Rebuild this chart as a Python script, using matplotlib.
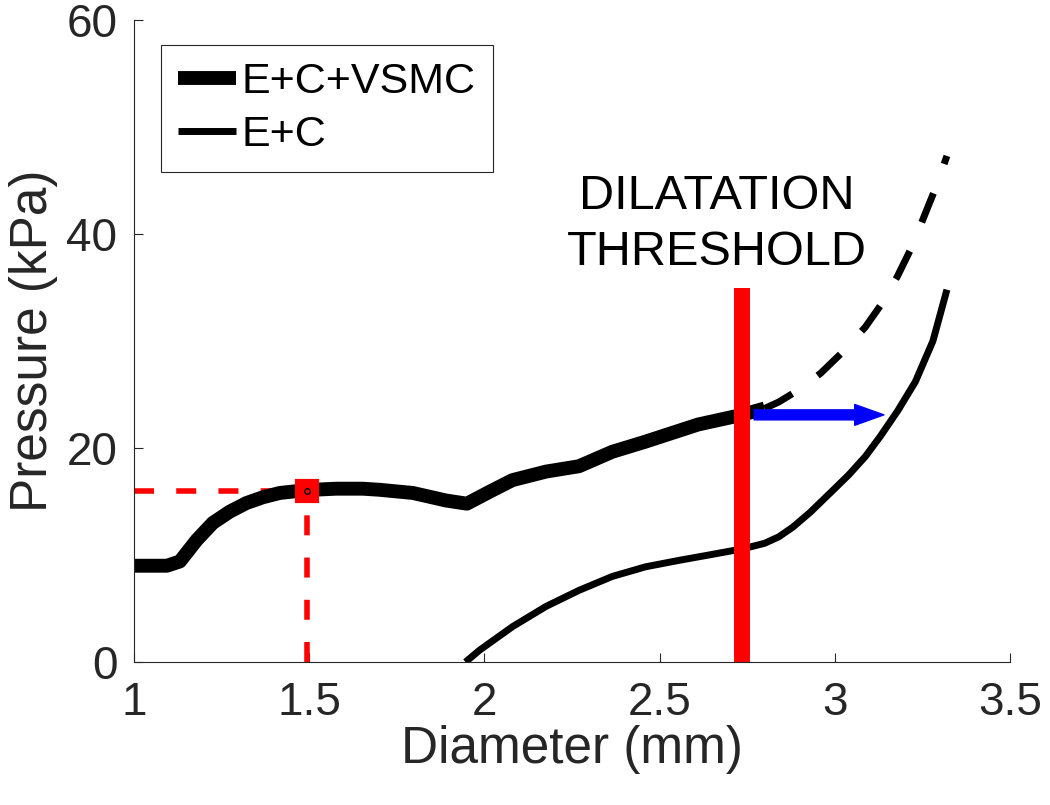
import matplotlib
matplotlib.use("Agg")
import matplotlib.pyplot as plt
import numpy as np

plt.rcParams['font.family'] = ['Liberation Sans', 'DejaVu Sans']

# E+C+VSMC (thick, solid part up to the threshold)
d_vsmc = [1.0, 1.094, 1.131, 1.179, 1.225, 1.273, 1.321, 1.368, 1.416, 1.492,
          1.577, 1.653, 1.70, 1.796, 1.89, 1.95, 2.014, 2.08, 2.176, 2.27,
          2.365, 2.46, 2.61, 2.735, 2.80]
p_vsmc = [9.0, 9.0, 9.4, 11.4, 13.0, 14.05, 14.86, 15.4, 15.8, 16.07,
          16.2, 16.2, 16.1, 15.8, 15.1, 14.8, 15.9, 17.0, 17.8, 18.3,
          19.65, 20.6, 22.2, 23.1, 23.7]

# E+C+VSMC extrapolated beyond the threshold (dashed)
d_dash = [2.80, 2.84, 2.90, 2.96, 3.02, 3.087, 3.13, 3.178, 3.22, 3.258, 3.29, 3.32]
p_dash = [23.7, 24.3, 25.5, 27.0, 28.9, 31.3, 33.3, 36.0, 38.8, 41.9, 44.5, 47.3]

# E+C (thin)
d_ec = [1.946, 1.986, 2.08, 2.176, 2.27, 2.365, 2.46, 2.555, 2.64, 2.74,
        2.80, 2.84, 2.88, 2.93, 2.99, 3.04, 3.087, 3.13, 3.18, 3.23, 3.28, 3.32]
p_ec = [0.0, 1.1, 3.3, 5.2, 6.7, 8.0, 8.9, 9.5, 10.0, 10.6,
        11.1, 11.7, 12.6, 14.0, 15.9, 17.5, 19.2, 21.1, 23.5, 26.2, 30.0, 34.8]

# operating point, threshold, shift arrow
op_d, op_p = 1.495, 16.0
thr_d, thr_top = 2.735, 35.0
arrow_d0, arrow_d1, arrow_p = 2.77, 3.14, 23.1

fig = plt.figure(figsize=(10.5, 8.05), dpi=100)
ax = fig.add_axes([0.1276, 0.1776, 0.8343, 0.7975])

ax.plot([1.0, op_d], [op_p, op_p], color='red', lw=4, dashes=(3.6, 4.0))
ax.plot([op_d, op_d], [0, op_p], color='red', lw=4, dashes=(3.6, 4.0))

ax.plot(d_vsmc, p_vsmc, color='black', lw=10, solid_capstyle='butt',
        solid_joinstyle='round', label='E+C+VSMC')
ax.plot(d_ec, p_ec, color='black', lw=5, solid_capstyle='butt',
        solid_joinstyle='round', label='E+C')
ax.plot(d_dash, p_dash, color='black', lw=5, dashes=(4.5, 4.5))

ax.plot([op_d], [op_p], marker='s', ms=14, mfc='red', mec='red', mew=3)
ax.plot([op_d], [op_p], marker='o', ms=4, mfc='none', mec='black', mew=1)

ax.plot([thr_d, thr_d], [0, thr_top], color='red', lw=11.5,
        solid_capstyle='butt')

ax.annotate('', xy=(arrow_d1, arrow_p), xytext=(arrow_d0, arrow_p),
            arrowprops=dict(arrowstyle='simple,head_length=2.1,head_width=1.5,tail_width=0.72',
                            color='blue', mutation_scale=10, shrinkA=0, shrinkB=0))

ax.text(2.664, 37.1, 'DILATATION\nTHRESHOLD', ha='center', va='baseline',
        fontsize=35, linespacing=1.33)

ax.set_xlim(1, 3.5)
ax.set_ylim(0, 60)
ax.set_xticks([1, 1.5, 2, 2.5, 3, 3.5])
ax.set_xticklabels(['1', '1.5', '2', '2.5', '3', '3.5'])
ax.set_yticks([0, 20, 40, 60])

for s in ['top', 'right']:
    ax.spines[s].set_visible(False)
for s in ['left', 'bottom']:
    ax.spines[s].set_color('#262626')
    ax.spines[s].set_linewidth(0.8)
ax.tick_params(direction='in', length=6.5, width=0.8, colors='#262626',
               labelsize=33)
ax.tick_params(axis='x', pad=14)
ax.tick_params(axis='y', pad=12)

ax.set_xlabel('Diameter (mm)', fontsize=37, color='#262626', labelpad=0)
ax.set_ylabel('Pressure (kPa)', fontsize=37, color='#262626', labelpad=6)

leg = ax.legend(loc='upper left', bbox_to_anchor=(0.031, 0.961),
                borderaxespad=0, fontsize=31, handlelength=1.35,
                handletextpad=0.12, fancybox=False, framealpha=1,
                borderpad=0.4, labelspacing=0.3)
leg.get_frame().set_edgecolor('#262626')
leg.get_frame().set_linewidth(0.8)

plt.savefig('out.png', dpi=100)
